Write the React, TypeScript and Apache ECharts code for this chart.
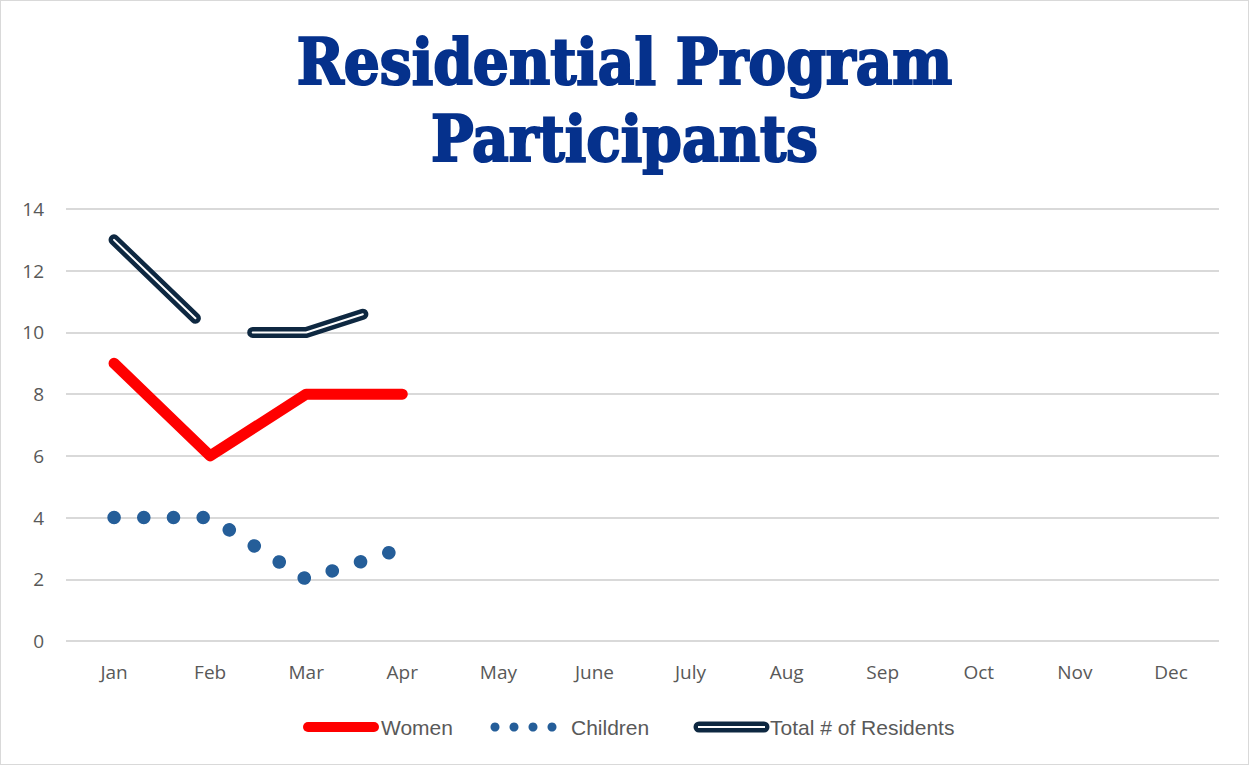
import React, { useEffect, useRef } from "react";
import * as echarts from "echarts";

const months = ["Jan", "Feb", "Mar", "Apr", "May", "June", "July", "Aug", "Sep", "Oct", "Nov", "Dec"];
const women = [9, 6, 8, 8];
const children = [4, 4, 2, 3];
const totalResidents = [13, 10, 10, 11];
const yTicks = { min: 0, max: 14, interval: 2 };
const titleText = "Residential Program\nParticipants";
const legendNames = ["Women", "Children", "Total # of Residents"];

const RED = "#ff0000";
const BLUE = "#255e99";
const NAVY = "#0e2841";
const GREY = "#595959";
const TITLE = "#05318c";

export default function App() {
  const ref = useRef<HTMLDivElement>(null);
  useEffect(() => {
    document.body.style.margin = "0";
    const chart = echarts.init(ref.current!, null, { renderer: "svg" });
    const legendY = 726;
    const textStyle = { fill: GREY, fontSize: 21, fontFamily: "Liberation Sans Narrow, Liberation Sans, sans-serif" };
    chart.setOption({
      animation: false,
      backgroundColor: "#ffffff",
      title: {
        text: titleText,
        left: "center",
        top: 17,
        textStyle: {
          color: TITLE,
          fontSize: 63,
          fontWeight: "bold",
          fontFamily: "DejaVu Serif Condensed, DejaVu Serif, serif",
          lineHeight: 77,
          textBorderColor: TITLE,
          textBorderWidth: 2,
        },
      },
      grid: { left: 65, right: 29, top: 208, bottom: 123, containLabel: false },
      xAxis: {
        type: "category",
        data: months,
        boundaryGap: true,
        axisLine: { show: false },
        axisTick: { show: false },
        axisLabel: { color: GREY, fontSize: 19, fontFamily: "Open Sans, Liberation Sans, sans-serif", margin: 21 },
      },
      yAxis: {
        type: "value",
        min: yTicks.min,
        max: yTicks.max,
        interval: yTicks.interval,
        axisLine: { show: false },
        axisTick: { show: false },
        splitLine: { lineStyle: { color: "#d9d9d9", width: 2 } },
        axisLabel: { color: GREY, fontSize: 19, fontFamily: "Open Sans, Liberation Sans, sans-serif", margin: 22 },
      },
      series: [
        {
          name: legendNames[0],
          type: "line",
          data: women,
          symbol: "none",
          lineStyle: { color: RED, width: 11, cap: "round", join: "round" },
          z: 3,
        },
        {
          name: legendNames[1],
          type: "line",
          data: children,
          symbol: "none",
          lineStyle: { color: BLUE, width: 13.5, type: [0.1, 29.6], cap: "round", join: "round" },
          z: 3,
        },
        {
          name: legendNames[2],
          type: "line",
          data: totalResidents,
          symbol: "none",
          lineStyle: { color: NAVY, width: 11, type: [113, 63], cap: "round", join: "round" },
          z: 3,
        },
        {
          name: "totalInner",
          type: "line",
          data: totalResidents,
          symbol: "none",
          lineStyle: { color: "#ffffff", width: 2, type: [113, 63], cap: "round", join: "round" },
          z: 4,
          silent: true,
        },
      ],
      graphic: [
        { type: "line", shape: { x1: 307, y1: legendY, x2: 373, y2: legendY }, style: { stroke: RED, lineWidth: 10, lineCap: "round" } },
        { type: "text", x: 380, y: legendY, style: { ...textStyle, text: legendNames[0], verticalAlign: "middle" } },
        { type: "circle", shape: { cx: 494, cy: legendY, r: 4.5 }, style: { fill: BLUE } },
        { type: "circle", shape: { cx: 513, cy: legendY, r: 4.5 }, style: { fill: BLUE } },
        { type: "circle", shape: { cx: 532, cy: legendY, r: 4.5 }, style: { fill: BLUE } },
        { type: "circle", shape: { cx: 551, cy: legendY, r: 4.5 }, style: { fill: BLUE } },
        { type: "text", x: 570, y: legendY, style: { ...textStyle, text: legendNames[1], verticalAlign: "middle" } },
        { type: "line", shape: { x1: 698, y1: legendY, x2: 763, y2: legendY }, style: { stroke: NAVY, lineWidth: 11, lineCap: "round" } },
        { type: "line", shape: { x1: 697, y1: legendY, x2: 764, y2: legendY }, style: { stroke: "#ffffff", lineWidth: 2 } },
        { type: "text", x: 769, y: legendY, style: { ...textStyle, text: legendNames[2], verticalAlign: "middle" } },
      ],
    });
    return () => chart.dispose();
  }, []);
  return (
    <div
      ref={ref}
      style={{ position: "absolute", left: 0, top: 0, width: 1249, height: 765, border: "1px solid #d9d9d9", boxSizing: "border-box" }}
    />
  );
}
